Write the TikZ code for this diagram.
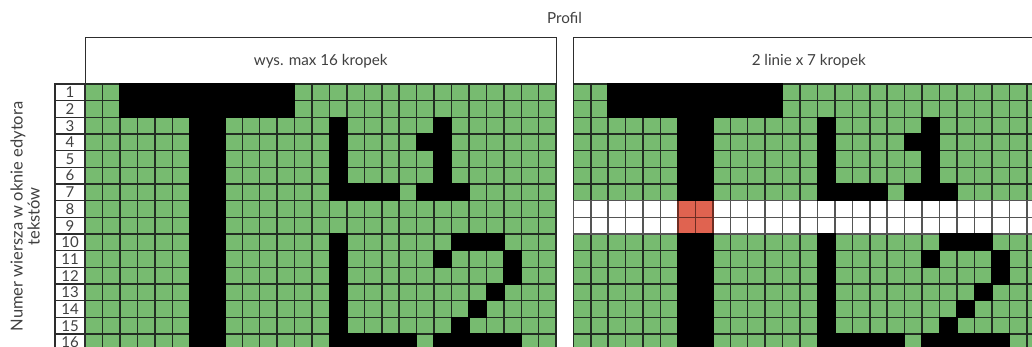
\documentclass[tikz,border=0pt]{standalone}
\usepackage{fontspec}
\setmainfont{Lato}
\definecolor{cgreen}{RGB}{119,187,112}
\definecolor{gline}{RGB}{34,46,34}
\definecolor{cred}{RGB}{224,99,80}
\definecolor{rline}{RGB}{110,45,35}
\definecolor{wline}{RGB}{85,85,85}
\definecolor{tgray}{RGB}{64,64,64}
\definecolor{bline}{RGB}{45,45,45}
\begin{document}
\begin{tikzpicture}[x=1pt,y=-1pt,
  cellg/.style={fill=cgreen, draw=gline, line width=1.5pt},
  cellw/.style={fill=white, draw=wline, line width=1.5pt},
  cellr/.style={fill=cred, draw=rline, line width=1.5pt},
  blk/.style={fill=black, draw=black, line width=1.5pt},
  hdr/.style={draw=bline, line width=1.4pt, fill=white, inner sep=0pt, text=tgray, font=\fontsize{15.2}{18}\selectfont},
  rowlab/.style={draw=bline, line width=1.4pt, fill=white, inner sep=0pt, minimum width=30pt, minimum height=16.67pt, text=tgray, font=\fontsize{15}{15}\selectfont},
  lbl/.style={text=tgray, font=\fontsize{15.2}{18}\selectfont, inner sep=0pt},
  ylbl/.style={text=tgray, font=\fontsize{16.5}{17}\selectfont, inner sep=0pt}]
\useasboundingbox (0,0) rectangle (1032,347);
\clip (0,0) rectangle (1032,347);
\fill[white] (0,0) rectangle (1032,347);

% title and axis label
\node[lbl] (title) at (564.5,18) {Profil};
\node[ylbl, rotate=90, align=center] (ylab) at (25,216.5) {Numer wiersza w oknie edytora\\tekstów};

% headers
\node[hdr, minimum width=470.9pt, minimum height=46.3pt] (hL) at (320.75,60.85) {wys. max 16 kropek};
\node[hdr, minimum width=470.9pt, minimum height=46.3pt] (hR) at (808.75,60.85) {2 linie x 7 kropek};

% left grid
\begin{scope}[shift={(85.3,84)}, x=17.44pt, y=-16.67pt]
  \foreach \r in {1,...,16} \foreach \c in {0,...,26} \path[cellg] (\c,\r-1) rectangle ++(1,1);
  \path[blk] (2,0) rectangle (12,2);
  \path[blk] (6,2) rectangle (8,16);
  \path[blk] (14,2) rectangle (15,7) (14,6) rectangle (18,7);
  \path[blk] (20,2) rectangle (21,7) (19,3) rectangle (20,4) (19,6) rectangle (22,7);
  \path[blk] (14,9) rectangle (15,16) (14,15) rectangle (19,16);
  \path[blk] (21,9) rectangle (24,10) (20,10) rectangle (21,11) (24,10) rectangle (25,12)
             (23,12) rectangle (24,13) (22,13) rectangle (23,14) (21,14) rectangle (22,15)
             (20,15) rectangle (25,16);
\end{scope}

% right grid
\begin{scope}[shift={(573.3,84)}, x=17.44pt, y=-16.67pt]
  \foreach \r in {1,...,7,10,11,...,16} \foreach \c in {0,...,26} \path[cellg] (\c,\r-1) rectangle ++(1,1);
  \foreach \r in {8,9} \foreach \c in {0,...,26} \path[cellw] (\c,\r-1) rectangle ++(1,1);
  \foreach \r in {8,9} \foreach \c in {6,7} \path[cellr] (\c,\r-1) rectangle ++(1,1);
  \path[blk] (2,0) rectangle (12,2);
  \path[blk] (6,2) rectangle (8,7) (6,9) rectangle (8,16);
  \path[blk] (14,2) rectangle (15,7) (14,6) rectangle (18,7);
  \path[blk] (20,2) rectangle (21,7) (19,3) rectangle (20,4) (19,6) rectangle (22,7);
  \path[blk] (14,9) rectangle (15,16) (14,15) rectangle (19,16);
  \path[blk] (21,9) rectangle (24,10) (20,10) rectangle (21,11) (24,10) rectangle (25,12)
             (23,12) rectangle (24,13) (22,13) rectangle (23,14) (21,14) rectangle (22,15)
             (20,15) rectangle (25,16);
\end{scope}

% row labels
\foreach \r in {1,...,16}
  \node[rowlab] (rl\r) at (70,{84+(\r-0.5)*16.67}) {\r};
\end{tikzpicture}
\end{document}
